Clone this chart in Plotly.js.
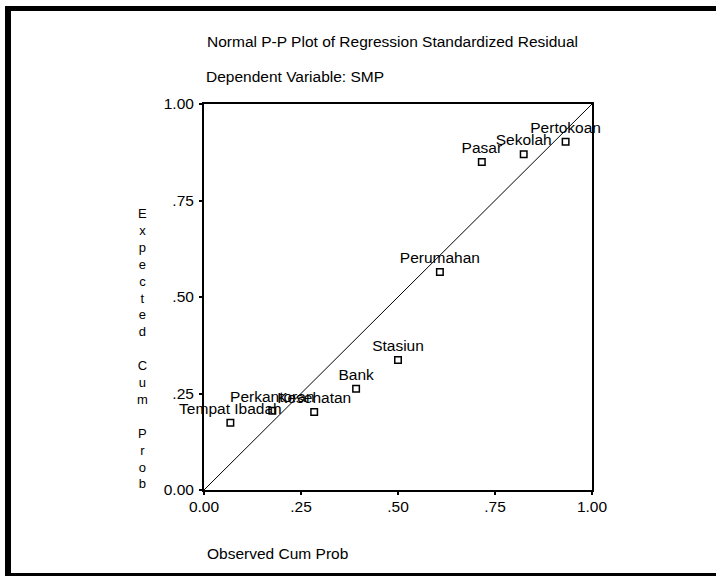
<!DOCTYPE html>
<html>
<head>
<meta charset="utf-8">
<script src="https://cdn.plot.ly/plotly-3.0.1.min.js"></script>
<style>
html,body{margin:0;padding:0;background:#fff;}
#chart{width:716px;height:578px;}
</style>
</head>
<body>
<div id="chart"></div>
<script>
// Data
var labels = ["Tempat Ibadah", "Perkantoran", "Kesehatan", "Bank", "Stasiun", "Perumahan", "Pasar", "Sekolah", "Pertokoan"];
var observedCumProb = [0.068, 0.176, 0.284, 0.392, 0.500, 0.608, 0.716, 0.824, 0.932];
var expectedCumProb = [0.174, 0.205, 0.202, 0.262, 0.337, 0.565, 0.850, 0.870, 0.902];
var refLineX = [0, 1];
var refLineY = [0, 1];
var tickValues = [0, 0.25, 0.5, 0.75, 1];
var tickLabels = ["0.00", ".25", ".50", ".75", "1.00"];

// Layout geometry (pixels)
var W = 716, H = 578;
var L = 204, R = 592, T = 104, B = 490;
function pxX(p){ return (p - L) / (R - L); }
function pxY(p){ return (B - p) / (B - T); }

var FONT = "Liberation Sans, Arial, sans-serif";

var traces = [
  {
    x: refLineX, y: refLineY, type: "scatter", mode: "lines",
    line: {color: "#000", width: 1}, hoverinfo: "skip", showlegend: false
  },
  {
    x: observedCumProb, y: expectedCumProb, text: labels,
    type: "scatter", mode: "markers+text", textposition: "top center",
    cliponaxis: false,
    textfont: {family: FONT, size: 15.5, color: "#000"},
    marker: {symbol: "square-open", size: 6.5, color: "#000", line: {width: 1.5, color: "#000"}},
    showlegend: false
  }
];

var axisCommon = {
  range: [0, 1], tickvals: tickValues, ticktext: tickLabels,
  showgrid: false, zeroline: false, showline: true, mirror: true,
  linecolor: "#000", linewidth: 2, ticks: "outside", ticklen: 3, tickwidth: 2,
  tickcolor: "#000", tickfont: {family: FONT, size: 15.5, color: "#000"},
  fixedrange: true
};

var layout = {
  width: W, height: H,
  margin: {l: L, r: W - R, t: T, b: H - B, pad: 0},
  paper_bgcolor: "#fff", plot_bgcolor: "#fff",
  showlegend: false,
  xaxis: Object.assign({}, axisCommon, {ticklabelstandoff: -2}),
  yaxis: Object.assign({}, axisCommon, {ticklabelstandoff: 2}),
  annotations: [
    {text: "Normal P-P Plot of Regression Standardized Residual", xref: "paper", yref: "paper",
     x: pxX(205), y: pxY(41), xanchor: "left", yanchor: "middle", showarrow: false,
     font: {family: FONT, size: 15.5, color: "#000"}},
    {text: "Dependent Variable: SMP", xref: "paper", yref: "paper",
     x: pxX(204), y: pxY(77), xanchor: "left", yanchor: "middle", showarrow: false,
     font: {family: FONT, size: 15.5, color: "#000"}},
    {text: "Observed Cum Prob", xref: "paper", yref: "paper",
     x: pxX(205), y: pxY(553), xanchor: "left", yanchor: "middle", showarrow: false,
     font: {family: FONT, size: 15.5, color: "#000"}},
    {text: "E<br>x<br>p<br>e<br>c<br>t<br>e<br>d<br> <br>C<br>u<br>m<br> <br>P<br>r<br>o<br>b",
     xref: "paper", yref: "paper", x: pxX(142), y: pxY(348), xanchor: "center", yanchor: "middle",
     align: "center", showarrow: false, font: {family: FONT, size: 13, color: "#000"}}
  ],
  shapes: [
    {type: "rect", xref: "paper", yref: "paper", x0: pxX(5), x1: pxX(716), y0: pxY(11), y1: pxY(6),
     fillcolor: "#000", line: {width: 0}},
    {type: "rect", xref: "paper", yref: "paper", x0: pxX(5), x1: pxX(11), y0: pxY(576), y1: pxY(6),
     fillcolor: "#000", line: {width: 0}},
    {type: "rect", xref: "paper", yref: "paper", x0: pxX(5), x1: pxX(716), y0: pxY(576), y1: pxY(573),
     fillcolor: "#000", line: {width: 0}}
  ]
};

Plotly.newPlot("chart", traces, layout, {displayModeBar: false, staticPlot: true});
</script>
</body>
</html>
